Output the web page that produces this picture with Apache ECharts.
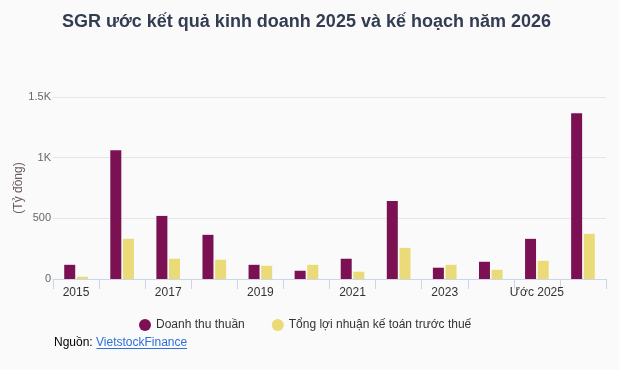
<!DOCTYPE html>
<html>
<head>
<meta charset="utf-8">
<script src="https://cdn.jsdelivr.net/npm/echarts@6/dist/echarts.min.js"></script>
<style>
html,body{margin:0;padding:0;background:#fafafa;}
#c{width:619px;height:370px;}
</style>
</head>
<body>
<div id="c"></div>
<script>
const categories = ['2015','2016','2017','2018','2019','2020','2021','2022','2023','2024','Ước 2025','KH 2026'];
const doanhThu = [117, 1062, 520, 364, 117, 68, 167, 643, 93, 142, 331, 1366];
const loiNhuan = [19, 331, 167, 159, 109, 117, 60, 257, 117, 76, 150, 372];
const yTicks = ['0', '500', '1K', '1.5K'];

const chart = echarts.init(document.getElementById('c'), null, {renderer: 'canvas'});
const font = 'Liberation Sans, Arial, sans-serif';
chart.setOption({
  backgroundColor: '#fafafa',
  animation: false,
  textStyle: {fontFamily: font},
  title: {
    text: 'SGR ước kết quả kinh doanh 2025 và kế hoạch năm 2026',
    left: 57, top: 8,
    textStyle: {fontFamily: font, fontSize: 18, fontWeight: 'bold', color: '#333d52'}
  },
  legend: {
    left: 134, top: 314,
    icon: 'circle', itemWidth: 12, itemHeight: 12, itemGap: 27,
    textStyle: {fontFamily: font, fontSize: 12, color: '#333333'},
    data: ['Doanh thu thuần', 'Tổng lợi nhuận kế toán trước thuế']
  },
  grid: {left: 53, right: 13, top: 97, bottom: 91, containLabel: false},
  xAxis: {
    type: 'category',
    data: categories,
    axisLine: {lineStyle: {color: '#ccd6eb'}},
    axisTick: {show: true, interval: 0, length: 10, lineStyle: {color: '#ccd6eb'}},
    axisLabel: {interval: 1, color: '#333333', fontSize: 12, margin: 8, fontFamily: font}
  },
  yAxis: {
    type: 'value', min: 0, max: 1500, interval: 500,
    axisLabel: {
      color: '#666666', fontSize: 11, margin: 2, fontFamily: font,
      formatter: (v) => yTicks[Math.round(v / 500)]
    },
    splitLine: {lineStyle: {color: '#e6e6e6'}},
    axisLine: {show: false}, axisTick: {show: false}
  },
  series: [
    {name: 'Doanh thu thuần', type: 'bar', data: doanhThu, barWidth: 11, barGap: '15%',
     itemStyle: {color: '#7b1152'}},
    {name: 'Tổng lợi nhuận kế toán trước thuế', type: 'bar', data: loiNhuan, barWidth: 11,
     itemStyle: {color: '#ebda78'}}
  ],
  graphic: [
    {type: 'text', x: 19, y: 188, rotation: Math.PI / 2,
     style: {text: '(Tỷ đồng)', font: '12px ' + font, fill: '#6b5b5b', align: 'center', verticalAlign: 'middle'}},
    {type: 'text', left: 54, top: 337, style: {text: 'Nguồn: ', font: '12px ' + font, fill: '#000000'}},
    {type: 'text', left: 96, top: 337, style: {text: 'VietstockFinance', font: '12px ' + font, fill: '#2f6fd8'}},
    {type: 'line', shape: {x1: 96.5, y1: 348.5, x2: 187, y2: 348.5}, style: {stroke: '#2f6fd8', lineWidth: 1}}
  ]
});
</script>
</body>
</html>
